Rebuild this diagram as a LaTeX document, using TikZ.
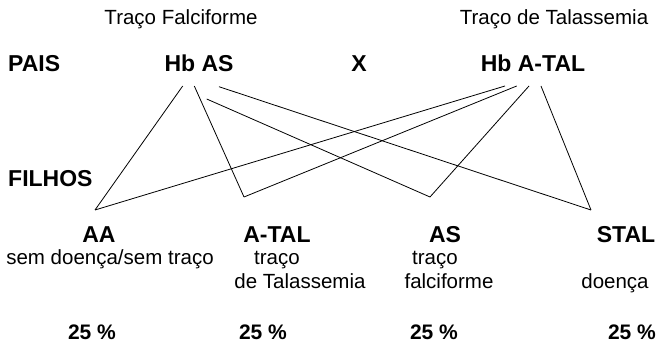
\documentclass[tikz,border=0pt]{standalone}
\usepackage{fontspec}
\setmainfont{Liberation Sans}
\begin{document}
\begin{tikzpicture}[x=1pt, y=-1pt,
	nome/.style={font=\fontsize{23}{23}\selectfont\bfseries, inner sep=0, anchor=base},
	texto/.style={font=\fontsize{20.5}{20.5}\selectfont, inner sep=0, anchor=base},
	pct/.style={font=\fontsize{21}{21}\selectfont\bfseries, inner sep=0, anchor=base},
	linha/.style={black, line width=0.8pt}]
	\useasboundingbox (0,0) rectangle (667,344);
	% pais
	\node[texto] (trfalc) at (181, 25) {Traço Falciforme};
	\node[texto] (trtal) at (554, 25) {Traço de Talassemia};
	\node[nome, anchor=base west] (pais) at (8, 72) {PAIS};
	\node[nome] (hbas) at (199, 72) {Hb AS};
	\node[nome] (cruz) at (359, 72) {X};
	\node[nome] (hbatal) at (533, 72) {Hb A-TAL};
	\node[nome, anchor=base west] (filhos) at (8, 187) {FILHOS};
	% filhos
	\node[nome] (aa) at (99, 243) {AA};
	\node[nome] (atal) at (277, 243) {A-TAL};
	\node[nome] (as) at (445, 243) {AS};
	\node[nome] (stal) at (626, 243) {STAL};
	\node[texto] (semdoenca) at (110, 265) {sem doença/sem traço};
	\node[texto] (tracotal) at (277, 265) {traço};
	\node[texto] (detal) at (300, 289) {de Talassemia};
	\node[texto] (tracofalc) at (435, 265) {traço};
	\node[texto] (falc) at (449, 289) {falciforme};
	\node[texto] (doenca) at (615, 289) {doença};
	\node[pct] (paa) at (92, 340) {25 \%};
	\node[pct] (patal) at (263, 340) {25 \%};
	\node[pct] (pas) at (434, 340) {25 \%};
	\node[pct] (pstal) at (632, 340) {25 \%};
	% pontas das linhas
	\coordinate (s1) at (182.7, 86);
	\coordinate (s2) at (194.3, 86);
	\coordinate (s3) at (206.7, 99);
	\coordinate (s4) at (219, 86.7);
	\coordinate (t1) at (505, 86);
	\coordinate (t2) at (516.7, 86);
	\coordinate (t3) at (529, 86);
	\coordinate (t4) at (541, 86);
	\coordinate (vaa) at (95, 210);
	\coordinate (vatal) at (244, 197);
	\coordinate (vas) at (430, 197);
	\coordinate (vstal) at (591, 210);
	\draw[linha] (s1) -- (vaa);
	\draw[linha] (s2) -- (vatal);
	\draw[linha] (s3) -- (vas);
	\draw[linha] (s4) -- (vstal);
	\draw[linha] (t1) -- (vaa);
	\draw[linha] (t2) -- (vatal);
	\draw[linha] (t3) -- (vas);
	\draw[linha] (t4) -- (vstal);
\end{tikzpicture}
\end{document}
